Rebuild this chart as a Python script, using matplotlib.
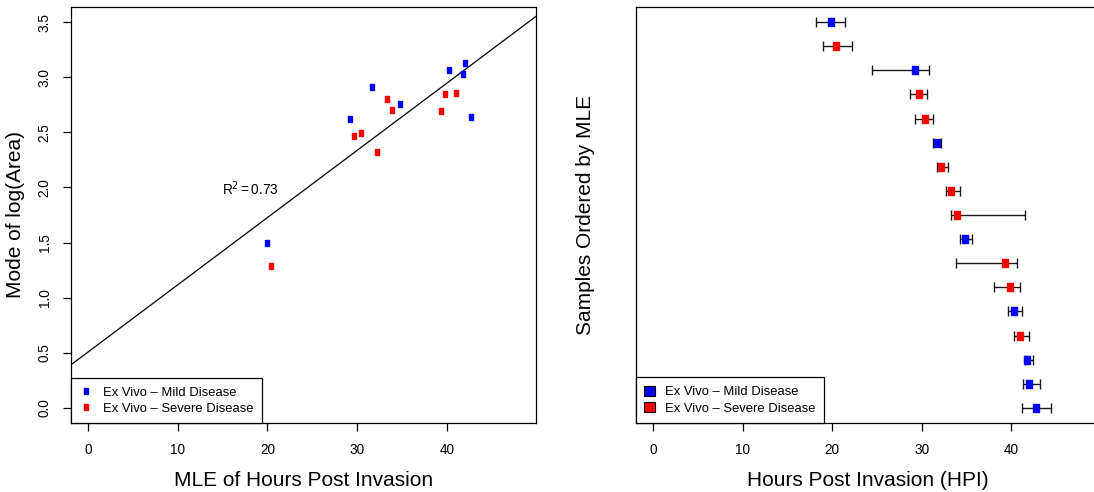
import numpy as np
import matplotlib
matplotlib.use("Agg")
import matplotlib.pyplot as plt
from matplotlib.lines import Line2D
from matplotlib.patches import Patch

plt.rcParams['font.family'] = ['Liberation Sans', 'DejaVu Sans']

# samples, ordered by MLE of hours post invasion
hpi_mle = [19.9, 20.4, 29.2, 29.7, 30.4, 31.7, 32.2, 33.3, 33.9, 34.8,
           39.3, 39.8, 40.3, 41.0, 41.8, 42.0, 42.7]
hpi_lower = [18.24, 18.94, 24.45, 28.65, 29.24, 31.25, 31.66, 32.75, 33.3, 34.31,
             33.86, 38.05, 39.66, 40.25, 41.51, 41.26, 41.17]
hpi_upper = [21.4, 22.18, 30.78, 30.56, 31.22, 32.19, 32.92, 34.27, 41.49, 35.6,
             40.68, 40.92, 41.18, 41.92, 42.45, 43.19, 44.46]
mode_log_area = [1.50, 1.29, 2.62, 2.47, 2.49, 2.91, 2.32, 2.80, 2.70, 2.76,
                 2.69, 2.85, 3.07, 2.86, 3.03, 3.13, 2.64]
group = ['Mild', 'Severe', 'Mild', 'Severe', 'Severe', 'Mild', 'Severe', 'Severe',
         'Severe', 'Mild', 'Severe', 'Severe', 'Mild', 'Severe', 'Mild', 'Mild', 'Mild']

colours = {'Mild': '#0000FF', 'Severe': '#FF0000'}
labels = {'Mild': 'Ex Vivo \u2013 Mild Disease', 'Severe': 'Ex Vivo \u2013 Severe Disease'}

x = np.array(hpi_mle)
y = np.array(mode_log_area)
cols = [colours[g] for g in group]

# tall little rectangle like R's pch 15 in this device
rect = [(-0.7, -1), (0.7, -1), (0.7, 1), (-0.7, 1), (-0.7, -1)]

W, H = 1094, 492
fig = plt.figure(figsize=(W / 100, H / 100), dpi=100)
ax1 = fig.add_axes([71 / W, 1 - 423.3 / H, 464.7 / W, 416.6 / H])
ax2 = fig.add_axes([635.7 / W, 1 - 423.3 / H, 464.5 / W, 416.6 / H])

# ---- left: mode of log(area) vs MLE
for xi, yi, c in zip(x, y, cols):
    ax1.plot(xi, yi, marker=rect, ms=4.8, color=c, mec=c, ls='none', zorder=3)

slope, icpt = np.polyfit(x, y, 1)
xx = np.array([-5, 60])
ax1.plot(xx, icpt + slope * xx, color='black', lw=0.9, zorder=2)
ax1.text(18.1, 1.99, r'R$^2$$\,$=$\,$0.73', ha='center', va='center', fontsize=9.8)

ax1.set_xlim(-1.92, 49.92)
ax1.set_ylim(-0.14, 3.64)
ax1.set_xticks([0, 10, 20, 30, 40])
ax1.set_yticks(np.arange(0, 3.6, 0.5))
ax1.set_yticklabels(['%.1f' % v for v in np.arange(0, 3.6, 0.5)], rotation=90, va='center')
ax1.set_xlabel('MLE of Hours Post Invasion', fontsize=15, labelpad=10)
ax1.set_ylabel('Mode of log(Area)', fontsize=15, labelpad=9)

h1 = [Line2D([], [], marker=rect, ms=4.5, ls='none', color=colours[g], mec=colours[g])
      for g in ['Mild', 'Severe']]
leg1 = ax1.legend(h1, [labels[g] for g in ['Mild', 'Severe']], loc='lower left',
                  bbox_to_anchor=(0, 0), borderaxespad=0, fontsize=9.4, frameon=True,
                  fancybox=False, edgecolor='black', framealpha=1, handlelength=1.0,
                  handletextpad=0.8, labelspacing=0.3, borderpad=0.65)
leg1.get_frame().set_linewidth(0.9)

# ---- right: MLE with interval, one row per sample
rows = np.arange(1, len(x) + 1)
for r, xi, lo, hi, c in zip(rows, x, hpi_lower, hpi_upper, cols):
    ax2.errorbar(xi, r, xerr=[[xi - lo], [hi - xi]], fmt='none', ecolor='#1a1a1a',
                 elinewidth=1.0, capsize=3.3, capthick=1.0, zorder=2)
    ax2.plot(xi, r, marker=rect, ms=5.3, color=c, mec=c, ls='none', zorder=3)

ax2.set_xlim(-1.92, 49.92)
ax2.set_ylim(17.64, 0.36)
ax2.set_xticks([0, 10, 20, 30, 40])
ax2.set_yticks([])
ax2.set_xlabel('Hours Post Invasion (HPI)', fontsize=15, labelpad=10)
ax2.set_ylabel('Samples Ordered by MLE', fontsize=15, labelpad=29)

h2 = [Patch(facecolor=colours[g], edgecolor='black', lw=0.8) for g in ['Mild', 'Severe']]
leg2 = ax2.legend(h2, [labels[g] for g in ['Mild', 'Severe']], loc='lower left',
                  bbox_to_anchor=(0, 0), borderaxespad=0, fontsize=9.4, frameon=True,
                  fancybox=False, edgecolor='black', framealpha=1, handlelength=0.8,
                  handleheight=0.8, handletextpad=0.8, labelspacing=0.3, borderpad=0.65)
leg2.get_frame().set_linewidth(0.9)

for ax in (ax1, ax2):
    for s in ax.spines.values():
        s.set_linewidth(0.9)
    ax.tick_params(direction='out', length=6, width=0.9, labelsize=9.8, pad=8)

fig.savefig('out.png', dpi=100)
